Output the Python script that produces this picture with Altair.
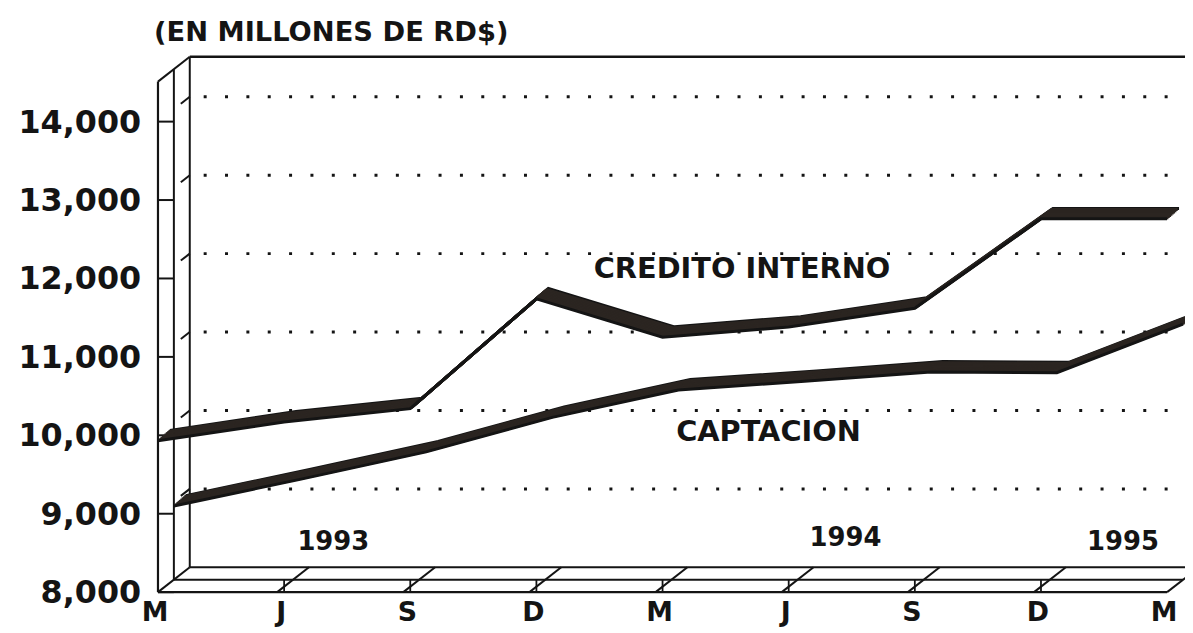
import altair as alt
import pandas as pd

# ---- data ----
quarter_labels = ["M", "J", "S", "D", "M", "J", "S", "D", "M"]
quarter_index = [0, 1, 2, 3, 4, 5, 6, 7, 8]
credito_interno = [9930, 10170, 10340, 11740, 11250, 11380, 11620, 12760, 12760]
captacion = [8940, 9280, 9630, 10070, 10420, 10530, 10650, 10640, 11260]

y_tick_values = [8000, 9000, 10000, 11000, 12000, 13000, 14000]
y_tick_labels = ["8,000", "9,000", "10,000", "11,000", "12,000", "13,000", "14,000"]
grid_values = [9000, 10000, 11000, 12000, 13000, 14000]

year_labels = ["1993", "1994", "1995"]
year_x = [1.39, 5.45, 7.65]
year_y = [8640, 8690, 8640]

series_names = ["CREDITO INTERNO", "CAPTACION"]
series_label_x = [4.63, 4.84]
series_label_y = [12125, 10047]

title_text = "(EN MILLONES DE RD$)"

Y_MIN, Y_MAX = 8000, 14510
X_MIN, X_MAX = 0, 8

FONT = "DejaVu Sans"
INK = "#141414"
RIBBON = "#2b2521"

xs = alt.Scale(domain=[X_MIN, X_MAX], nice=False, zero=False)
ys = alt.Scale(domain=[Y_MIN, Y_MAX], nice=False, zero=False)


def X(f):
    return alt.X(f, type="quantitative", scale=xs, axis=None)


def Y(f):
    return alt.Y(f, type="quantitative", scale=ys, axis=None)


def seg(df, xo=0, x2o=0, yo=0, y2o=0, width=2.0, color=INK, dash=None):
    kw = dict(xOffset=xo, x2Offset=x2o, yOffset=yo, y2Offset=y2o,
              strokeWidth=width, color=color, strokeCap="butt")
    if dash is not None:
        kw["strokeDash"] = dash
    return alt.Chart(df).mark_rule(**kw).encode(
        x=X("x"), x2=alt.X2("x2"), y=Y("y"), y2=alt.Y2("y2"))


# depth of one slot and of the whole box (pixels)
SX, SY = 16, -12.5
BX, BY = 32, -25

layers = []

# dotted grid on back wall
grid_df = pd.DataFrame({"x": X_MIN, "x2": X_MAX, "y": grid_values, "y2": grid_values})
layers.append(seg(grid_df, xo=BX + 14, x2o=BX + 40, yo=BY, y2o=BY, width=3, dash=[3, 18.5]))
# grid continuation on side wall
layers.append(seg(grid_df.assign(x2=X_MIN), xo=BX - 9, x2o=BX, yo=BY + 7, y2o=BY, width=2))

# y ticks (front -> middle)
ytick_df = pd.DataFrame({"x": X_MIN, "x2": X_MIN, "y": y_tick_values, "y2": y_tick_values})
layers.append(seg(ytick_df, xo=0, x2o=SX, width=2))

# frame verticals
vert_df = pd.DataFrame({"x": [X_MIN], "x2": [X_MIN], "y": [Y_MIN], "y2": [Y_MAX]})
layers.append(seg(vert_df, width=2.2))
layers.append(seg(vert_df, xo=SX, x2o=SX, yo=SY, y2o=SY, width=2))
layers.append(seg(vert_df, xo=BX, x2o=BX, yo=BY, y2o=BY, width=2))
# top diagonal and top edge
top_df = pd.DataFrame({"x": [X_MIN], "x2": [X_MIN], "y": [Y_MAX], "y2": [Y_MAX]})
layers.append(seg(top_df, xo=0, x2o=BX, yo=0, y2o=BY, width=2))
topline_df = pd.DataFrame({"x": [X_MIN], "x2": [X_MAX], "y": [Y_MAX], "y2": [Y_MAX]})
layers.append(seg(topline_df, xo=BX, x2o=BX + 40, yo=BY, y2o=BY, width=2.5))

# floor lines
floor_df = pd.DataFrame({"x": [X_MIN], "x2": [X_MAX], "y": [Y_MIN], "y2": [Y_MIN]})
layers.append(seg(floor_df, width=2.2))
layers.append(seg(floor_df, xo=SX, x2o=SX, yo=SY, y2o=SY, width=2))
layers.append(seg(floor_df, xo=BX, x2o=BX, yo=BY, y2o=BY, width=2))
# floor slants
ends_df = pd.DataFrame({"x": [X_MIN, X_MAX], "x2": [X_MIN, X_MAX], "y": Y_MIN, "y2": Y_MIN})
layers.append(seg(ends_df, xo=0, x2o=BX, yo=0, y2o=BY, width=2))
inner = quarter_index[1:-1]
slant_df = pd.DataFrame({"x": inner, "x2": inner, "y": Y_MIN, "y2": Y_MIN})
layers.append(seg(slant_df, xo=-7, x2o=BX - 7, yo=0, y2o=BY, width=2))
# x ticks (front -> middle)
layers.append(seg(slant_df, xo=0, x2o=0, yo=0, y2o=SY, width=1.8))

# ribbons
series_df = pd.DataFrame({
    "q": quarter_index * 2,
    "v": credito_interno + captacion,
    "s": [series_names[0]] * 9 + [series_names[1]] * 9,
})
N = 10
for s_i, (bx, by) in enumerate([(0, 0), (SX, SY)]):
    df = series_df[series_df["s"] == series_names[s_i]]
    for k in reversed(range(N)):
        t = k / (N - 1)
        layers.append(
            alt.Chart(df).mark_line(
                xOffset=bx + 12 * t, yOffset=by - 10.5 * t,
                strokeWidth=3, color=INK if k in (0, N - 1) else RIBBON,
                strokeCap="butt", strokeJoin="miter",
            ).encode(x=X("q"), y=Y("v"), order="q:Q")
        )

# y labels
ylab_df = pd.DataFrame({"x": X_MIN, "y": y_tick_values, "t": y_tick_labels})
layers.append(alt.Chart(ylab_df).mark_text(
    align="right", baseline="middle", dx=-17, dy=1, font=FONT, fontWeight="bold",
    fontSize=32, color=INK).encode(x=X("x"), y=Y("y"), text="t:N"))

# month labels
mlab_df = pd.DataFrame({"x": quarter_index, "y": Y_MIN, "t": quarter_labels})
layers.append(alt.Chart(mlab_df).mark_text(
    align="center", baseline="middle", dy=21, dx=-3, font=FONT, fontWeight="bold",
    fontSize=27, color=INK).encode(x=X("x"), y=Y("y"), text="t:N"))

# year labels
year_df = pd.DataFrame({"x": year_x, "y": year_y, "t": year_labels})
layers.append(alt.Chart(year_df).mark_text(
    align="center", baseline="middle", font=FONT, fontWeight="bold",
    fontSize=26, color=INK).encode(x=X("x"), y=Y("y"), text="t:N"))

# series labels
slab_df = pd.DataFrame({"x": series_label_x, "y": series_label_y, "t": series_names})
layers.append(alt.Chart(slab_df).mark_text(
    align="center", baseline="middle", font=FONT, fontWeight="bold",
    fontSize=29, color=INK).encode(x=X("x"), y=Y("y"), text="t:N"))

# title text (top-left, above box)
title_df = pd.DataFrame({"x": [X_MIN], "y": [Y_MAX], "t": [title_text]})
layers.append(alt.Chart(title_df).mark_text(
    align="left", baseline="middle", dx=-4, dy=-49, font=FONT, fontWeight="bold",
    fontSize=27.5, color=INK).encode(x=X("x"), y=Y("y"), text="t:N"))

chart = alt.layer(*layers).properties(
    width=1016, height=514,
    autosize=alt.AutoSizeParams(type="none"),
    padding={"left": 151, "top": 72, "right": 18, "bottom": 39},
    background="white",
).configure_view(strokeWidth=0)

chart.save("out.html", embed_options={"renderer": "svg", "actions": False})
